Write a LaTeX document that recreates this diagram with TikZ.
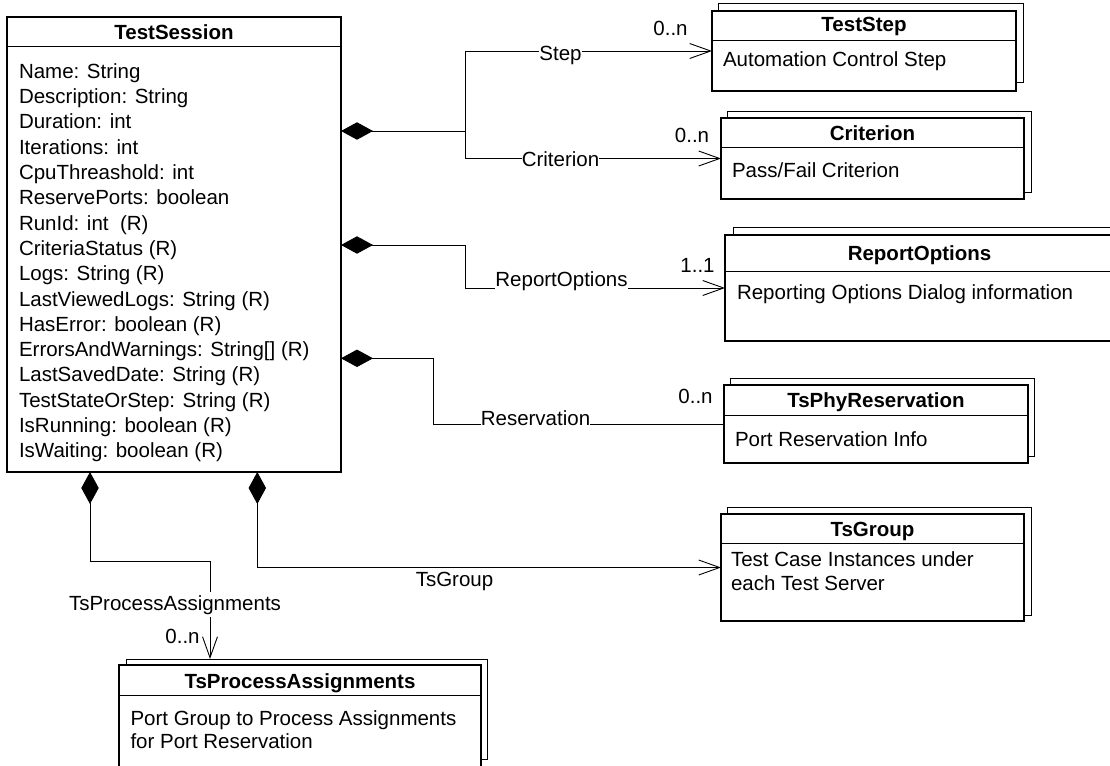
\documentclass[tikz,border=0pt]{standalone}
\usepackage{fontspec}
\setmainfont{Liberation Sans}
\usetikzlibrary{arrows.meta}
\begin{document}
\begin{tikzpicture}[x=1pt,y=-1pt,
  every node/.style={font=\fontsize{20.5pt}{25.3pt}\selectfont, inner sep=0pt, outer sep=0pt},
  frontbox/.style={draw, line width=1.3pt, fill=white, rectangle, anchor=north west},
  backbox/.style={draw, line width=1pt, fill=white, rectangle, anchor=north west},
  classname/.style={anchor=base, font=\fontsize{20.5pt}{25.3pt}\selectfont\bfseries},
  attr/.style={anchor=base west},
  rolelabel/.style={anchor=base, fill=white, inner xsep=0pt, inner ysep=1.2pt},
  mult/.style={anchor=base},
  divider/.style={line width=1pt},
  link/.style={line width=0.9pt},
  has/.style={link, {Diamond[length=32pt,width=17.4pt]}-},
  hasnav/.style={link, {Diamond[length=32pt,width=17.4pt]}-{Straight Barb[length=21pt,width=15pt]}},
  nav/.style={link, -{Straight Barb[length=21pt,width=15pt]}},
]
\useasboundingbox (0,0) rectangle (1110,765);
\fill[white] (0,0) rectangle (1110,765);

% ---------- TestSession ----------
\node[frontbox, minimum width=334pt, minimum height=455pt] (ts) at (7,17) {};
\draw[divider] (ts.west |- 0,47) -- (ts.east |- 0,47);
\node[classname] (ts-name) at (174,39.4) {TestSession};
\foreach \t [count=\i from 0] in {{Name: String},{Description: String},{Duration: int},
  {Iterations: int},{CpuThreashold: int},{ReservePorts: boolean},{RunId: int\ \ (R)},
  {CriteriaStatus (R)},{Logs: String (R)},{LastViewedLogs: String (R)},
  {HasError: boolean (R)},{ErrorsAndWarnings: String[] (R)},{LastSavedDate: String (R)},
  {TestStateOrStep: String (R)},{IsRunning: boolean (R)},{IsWaiting: boolean (R)}}
  \node[attr] (ts-a\i) at (19,{78.3+25.3*\i}) {\t};

% ---------- TestStep ----------
\node[backbox, minimum width=305pt, minimum height=79pt] (step-b) at (718,4) {};
\node[frontbox, minimum width=304pt, minimum height=80pt] (step) at (712,11) {};
\draw[divider] (step.west |- 0,41) -- (step.east |- 0,41);
\node[classname] (step-name) at (864,31.5) {TestStep};
\node[attr] (step-d) at (723,67) {Automation Control Step};

% ---------- Criterion ----------
\node[backbox, minimum width=304pt, minimum height=80pt] (crit-b) at (727,112) {};
\node[frontbox, minimum width=303pt, minimum height=81pt] (crit) at (721,118) {};
\draw[divider] (crit.west |- 0,147) -- (crit.east |- 0,147);
\node[classname] (crit-name) at (872.5,140.2) {Criterion};
\node[attr] (crit-d) at (732,177.6) {Pass/Fail Criterion};

% ---------- ReportOptions ----------
\node[backbox, minimum width=390pt, minimum height=106pt] (rep-b) at (733,227) {};
\node[frontbox, minimum width=389pt, minimum height=106pt] (rep) at (725,235) {};
\draw[divider] (rep.west |- 0,271) -- (rep.east |- 0,271);
\node[classname] (rep-name) at (919.5,260) {ReportOptions};
\node[attr] (rep-d) at (737,299.3) {Reporting Options Dialog information};

% ---------- TsPhyReservation ----------
\node[backbox, minimum width=304pt, minimum height=78pt] (phy-b) at (730,378) {};
\node[frontbox, minimum width=304pt, minimum height=78pt] (phy) at (724,385) {};
\draw[divider] (phy.west |- 0,415) -- (phy.east |- 0,415);
\node[classname] (phy-name) at (876,407.4) {TsPhyReservation};
\node[attr] (phy-d) at (735,446) {Port Reservation Info};

% ---------- TsGroup ----------
\node[backbox, minimum width=304pt, minimum height=108pt] (grp-b) at (727,507) {};
\node[frontbox, minimum width=303pt, minimum height=107pt] (grp) at (721,514) {};
\draw[divider] (grp.west |- 0,543) -- (grp.east |- 0,543);
\node[classname] (grp-name) at (872.5,536) {TsGroup};
\node[attr] (grp-d1) at (731,566.5) {Test Case Instances under};
\node[attr] (grp-d2) at (731,590) {each Test Server};

% ---------- TsProcessAssignments ----------
\node[backbox, minimum width=361pt, minimum height=100pt] (proc-b) at (126,659) {};
\node[frontbox, minimum width=362pt, minimum height=125pt] (proc) at (119,665) {};
\draw[divider] (proc.west |- 0,695) -- (proc.east |- 0,695);
\node[classname] (proc-name) at (300,688) {TsProcessAssignments};
\node[attr] (proc-d1) at (130.5,725) {Port Group to Process Assignments};
\node[attr] (proc-d2) at (130.5,748) {for Port Reservation};

% ---------- associations ----------
\coordinate (j1) at (465.7,131);
\draw[has] (ts.east |- j1) -- (j1);
\draw[nav] (j1) |- (step.west);
\draw[nav] (j1) |- (crit.west);

\coordinate (j2) at (465.7,245);
\draw[hasnav] (ts.east |- j2) -- (j2) |- (rep.west);

\coordinate (j3) at (433.3,358.3);
\draw[has] (ts.east |- j3) -- (j3) |- (phy.west);

\coordinate (j4) at (90,561);
\draw[hasnav] (ts.south -| j4) -- (j4) -| (proc-b.north -| 210,0);

\coordinate (j5) at (257.3,0);
\draw[hasnav] (ts.south -| j5) |- (grp.west);

% ---------- role names and multiplicities ----------
\node[rolelabel] (l-step) at (560.5,60.4) {Step};
\node[mult] (m-step) at (670.5,36) {0..n};
\node[rolelabel] (l-crit) at (560.5,166) {Criterion};
\node[mult] (m-crit) at (692,142.5) {0..n};
\node[rolelabel] (l-rep) at (561.5,286) {ReportOptions};
\node[mult] (m-rep) at (697.5,272.5) {1..1};
\node[rolelabel] (l-phy) at (535.5,425.5) {Reservation};
\node[mult] (m-phy) at (695.5,403) {0..n};
\node[rolelabel] (l-grp) at (454.5,586) {TsGroup};
\node[rolelabel, inner ysep=3pt] (l-proc) at (175,610) {TsProcessAssignments};
\node[mult] (m-proc) at (182.5,643) {0..n};
\end{tikzpicture}
\end{document}
